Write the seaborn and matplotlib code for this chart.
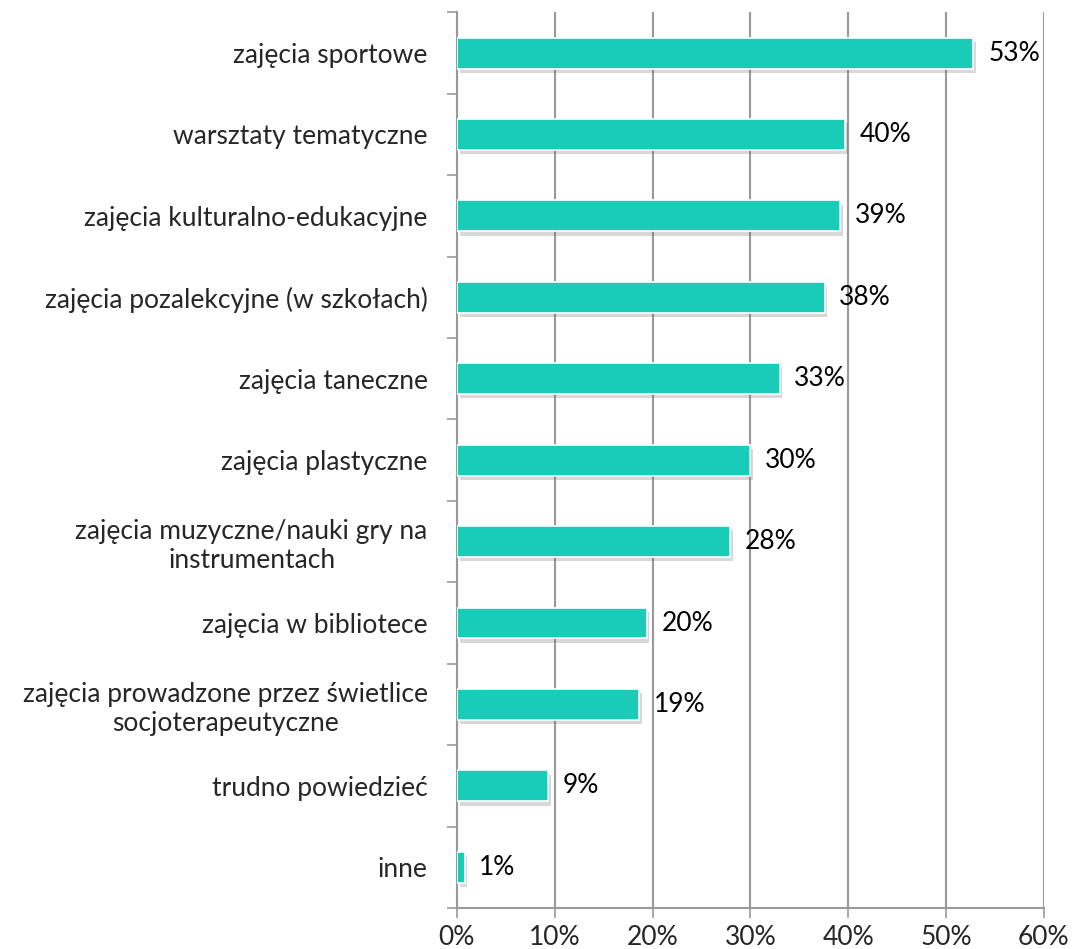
import numpy as np
import pandas as pd
import matplotlib
matplotlib.use("Agg")
import matplotlib.pyplot as plt
import matplotlib.patheffects as pe
from matplotlib.ticker import FixedLocator, PercentFormatter
import seaborn as sns

categories = [
    "zajęcia sportowe",
    "warsztaty tematyczne",
    "zajęcia kulturalno-edukacyjne",
    "zajęcia pozalekcyjne (w szkołach)",
    "zajęcia taneczne",
    "zajęcia plastyczne",
    "zajęcia muzyczne/nauki gry na\ninstrumentach",
    "zajęcia w bibliotece",
    "zajęcia prowadzone przez świetlice\nsocjoterapeutyczne",
    "trudno powiedzieć",
    "inne",
]
values = [52.8, 39.7, 39.2, 37.6, 33.0, 30.0, 27.9, 19.4, 18.6, 9.3, 0.8]
labels = ["53%", "40%", "39%", "38%", "33%", "30%", "28%", "20%", "19%", "9%", "1%"]

df = pd.DataFrame({"cat": categories, "val": values})

sns.set_style("white")
plt.rcParams["font.family"] = ["Lato", "DejaVu Sans"]

fig = plt.figure(figsize=(10.75, 9.49), dpi=100)
ax = fig.add_axes([0.425, 0.0432, 0.546, 0.9438])

sns.barplot(data=df, x="val", y="cat", color="#18CCB8", saturation=1,
            width=0.38, edgecolor="white", linewidth=1.2, ax=ax, zorder=3)

# soft drop shadow like the original office chart
for p in ax.patches:
    p.set_path_effects([pe.SimplePatchShadow(offset=(2, -3), shadow_rgbFace="#666666", alpha=0.25),
                        pe.Normal()])

for i, (v, lab) in enumerate(zip(values, labels)):
    ax.text(v + 1.5, i, lab, va="center", ha="left", fontsize=19, color="black", zorder=4)

ax.set_xlim(0, 60)
ax.set_ylim(len(categories) - 0.5, -0.5)
ax.set_xticks(np.arange(0, 61, 10))
ax.xaxis.set_major_formatter(PercentFormatter(decimals=0))
ax.grid(axis="x", color="#999999", linewidth=1.5, zorder=0)
ax.set_axisbelow(True)

ax.yaxis.set_minor_locator(FixedLocator(np.arange(-0.5, len(categories), 1)))
ax.tick_params(axis="y", which="major", length=0, labelsize=19, pad=21)
ax.tick_params(axis="y", which="minor", length=7, width=1.2, color="#999999", direction="out", left=True)
ax.tick_params(axis="x", which="major", length=7, width=1.2, color="#999999", direction="out",
               bottom=True, labelsize=19, pad=5)
for t in ax.get_yticklabels():
    t.set_multialignment("center")

for s in ["top", "right"]:
    ax.spines[s].set_visible(False)
for s in ["left", "bottom"]:
    ax.spines[s].set_color("#999999")
    ax.spines[s].set_linewidth(1.5)

ax.set_xlabel("")
ax.set_ylabel("")

fig.savefig("out.png", dpi=100)
